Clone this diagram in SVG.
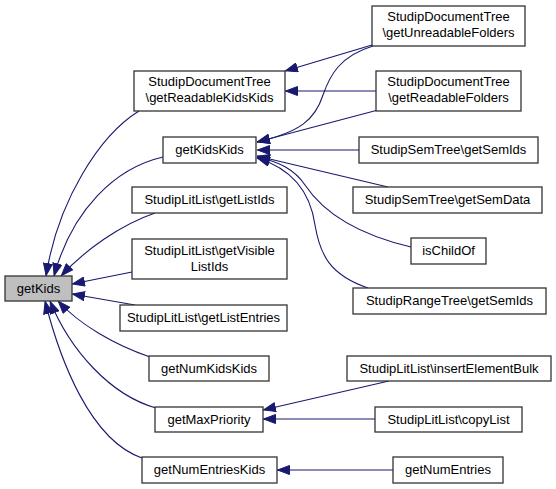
<svg xmlns="http://www.w3.org/2000/svg" width="556" height="489" viewBox="0 0 556 489">
<style>
.n rect{fill:#fff;stroke:#333;stroke-width:1.3}
.n.f rect{fill:#bfbfbf}
.n text{font-family:"Liberation Sans",Arial,sans-serif;font-size:13px;fill:#000;text-anchor:middle}
.e path{fill:none;stroke:#191970;stroke-width:1.1;marker-end:url(#arr)}
</style>
<defs>
<marker id="arr" viewBox="0 0 13 10" markerWidth="13" markerHeight="10" refX="13" refY="5" orient="auto" markerUnits="userSpaceOnUse">
<path d="M0.5,0.5 L12.5,5 L0.5,9.5 z" fill="#191970" stroke="#191970" stroke-width="1"/>
</marker>
</defs>
<rect width="556" height="489" fill="#fff"/>
<g id="edges" class="e">
<path d="M139,111 C100,135 58,200 46,276"/>
<path d="M163,157 C115,168 72,210 54,276"/>
<path d="M155,213 C120,225 85,250 61,276"/>
<path d="M132,272 L72,284"/>
<path d="M135,305 L72,294"/>
<path d="M150,357 C115,345 80,325 58,301"/>
<path d="M156,408 C110,395 70,350 50,301"/>
<path d="M142,458 C90,440 60,360 45,301"/>
<path d="M373,46 C340,56 330,75 323,95 C315,120 300,132 257,142"/>
<path d="M378,110 L257,142"/>
<path d="M359,150 L257,150"/>
<path d="M388,187 L257,156"/>
<path d="M411,247 C360,235 325,215 305,185 C295,170 280,162 257,157"/>
<path d="M368,288 C330,275 320,255 315,225 C310,190 290,168 257,158"/>
<path d="M372,45 L285,71"/>
<path d="M376,91 L285,91"/>
<path d="M389,381 L263,410"/>
<path d="M375,419 L263,419"/>
<path d="M393,470 L277,470"/>
</g>
<g id="getKids" class="n f"><rect x="5" y="276" width="67" height="25"/><text x="38.5" y="293">getKids</text></g>
<g id="getReadableKidsKids" class="n"><rect x="134" y="71" width="151" height="40"/><text x="209.5" y="86">StudipDocumentTree</text><text x="209.5" y="102">\getReadableKidsKids</text></g>
<g id="getKidsKids" class="n"><rect x="163" y="137" width="93" height="26"/><text x="209.5" y="154">getKidsKids</text></g>
<g id="getListIds" class="n"><rect x="132" y="187" width="155" height="26"/><text x="209.5" y="204">StudipLitList\getListIds</text></g>
<g id="getVisibleListIds" class="n"><rect x="132" y="239" width="155" height="40"/><text x="209.5" y="255">StudipLitList\getVisible</text><text x="209.5" y="271">ListIds</text></g>
<g id="getListEntries" class="n"><rect x="120" y="305" width="167" height="26"/><text x="203.5" y="322">StudipLitList\getListEntries</text></g>
<g id="getNumKidsKids" class="n"><rect x="149" y="356" width="120" height="25"/><text x="209" y="373">getNumKidsKids</text></g>
<g id="getMaxPriority" class="n"><rect x="155" y="407" width="108" height="25"/><text x="209" y="424">getMaxPriority</text></g>
<g id="getNumEntriesKids" class="n"><rect x="142" y="457" width="135" height="26"/><text x="209.5" y="474">getNumEntriesKids</text></g>
<g id="getUnreadableFolders" class="n"><rect x="372" y="6" width="153" height="40"/><text x="448.5" y="21">StudipDocumentTree</text><text x="448.5" y="37">\getUnreadableFolders</text></g>
<g id="getReadableFolders" class="n"><rect x="376" y="71" width="145" height="40"/><text x="448.5" y="86">StudipDocumentTree</text><text x="448.5" y="102">\getReadableFolders</text></g>
<g id="semTreeGetSemIds" class="n"><rect x="359" y="137" width="179" height="26"/><text x="448.5" y="154">StudipSemTree\getSemIds</text></g>
<g id="getSemData" class="n"><rect x="353" y="187" width="189" height="26"/><text x="447.5" y="204">StudipSemTree\getSemData</text></g>
<g id="isChildOf" class="n"><rect x="411" y="238" width="75" height="26"/><text x="448.5" y="255">isChildOf</text></g>
<g id="rangeTreeGetSemIds" class="n"><rect x="353" y="288" width="193" height="26"/><text x="449.5" y="305">StudipRangeTree\getSemIds</text></g>
<g id="insertElementBulk" class="n"><rect x="347" y="356" width="204" height="25"/><text x="449" y="373">StudipLitList\insertElementBulk</text></g>
<g id="copyList" class="n"><rect x="375" y="407" width="147" height="25"/><text x="448.5" y="424">StudipLitList\copyList</text></g>
<g id="getNumEntries" class="n"><rect x="393" y="457" width="110" height="26"/><text x="448" y="474">getNumEntries</text></g>
</svg>
